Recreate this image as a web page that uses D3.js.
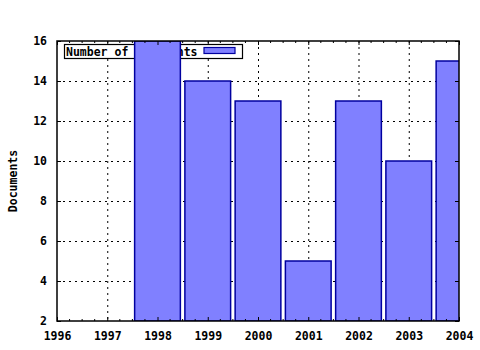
<!DOCTYPE html>
<html>
<head>
<meta charset="utf-8">
<script src="https://cdn.jsdelivr.net/npm/d3@7"></script>
<style>
  body { margin: 0; background: #fff; }
  text { font-family: "DejaVu Sans Mono", "Liberation Mono", monospace; font-weight: bold; font-size: 11.5px; fill: #000; }
</style>
</head>
<body>
<svg width="480" height="350"></svg>
<script>
const years = [1998, 1999, 2000, 2001, 2002, 2003, 2004];
const documents = [16, 14, 13, 5, 13, 10, 15];
const xTicks = [1996, 1997, 1998, 1999, 2000, 2001, 2002, 2003, 2004];
const yTicks = [2, 4, 6, 8, 10, 12, 14, 16];

const margin = {left: 57, right: 21, top: 41, bottom: 29};
const width = 480 - margin.left - margin.right;
const height = 350 - margin.top - margin.bottom;

const svg = d3.select("svg");

const x = d3.scaleLinear().domain([1996, 2004]).range([0, width]);
const y = d3.scaleLinear().domain([2, 16]).range([height, 0]);

const g = svg.append("g").attr("transform", `translate(${margin.left},${margin.top})`);

svg.append("defs").append("clipPath").attr("id", "plot")
    .append("rect").attr("width", width).attr("height", height);

// grid
g.append("g").selectAll("line").data(xTicks.slice(1, -1)).enter().append("line")
    .attr("x1", d => x(d) + 0.5).attr("x2", d => x(d) + 0.5)
    .attr("y1", 0).attr("y2", height)
    .attr("stroke", "#000").attr("stroke-dasharray", "2,4");
g.append("g").selectAll("line").data(yTicks.slice(1, -1)).enter().append("line")
    .attr("x1", 0).attr("x2", width)
    .attr("y1", d => y(d) + 0.5).attr("y2", d => y(d) + 0.5)
    .attr("stroke", "#000").attr("stroke-dasharray", "2,4");

// legend (bars are drawn over it)
const legend = g.append("g").attr("transform", "translate(7,3)");
legend.append("rect").attr("x", 0.5).attr("y", 0.5).attr("width", 178).attr("height", 14)
    .attr("fill", "#fff").attr("stroke", "#000").attr("stroke-width", 1.2);
legend.append("text").attr("x", 2).attr("y", 11.5).text("Number of documents");
legend.append("rect").attr("x", 140).attr("y", 3.5).attr("width", 31).attr("height", 6)
    .attr("fill", "#8080ff").attr("stroke", "#00009f").attr("stroke-width", 1.2);

// bars
const barW = x(1996.91) - x(1996);
g.append("g").attr("clip-path", "url(#plot)")
    .selectAll("rect").data(years).enter().append("rect")
    .attr("x", d => x(d) - barW / 2)
    .attr("y", (d, i) => y(documents[i]))
    .attr("width", barW)
    .attr("height", (d, i) => y(2) - y(documents[i]))
    .attr("fill", "#8080ff")
    .attr("stroke", "#00009f")
    .attr("stroke-width", 1.5);

// axes
const xBottom = d3.axisBottom(x).tickValues(xTicks).tickSize(-4).tickPadding(11).tickFormat(d3.format("d"));
const xTop = d3.axisTop(x).tickValues(xTicks).tickSize(-4).tickFormat("");
const yLeft = d3.axisLeft(y).tickValues(yTicks).tickSize(-4).tickPadding(10);
const yRight = d3.axisRight(y).tickValues(yTicks).tickSize(-4).tickFormat("");

const minor = d3.range(1996, 2004.01, 0.25).filter(d => d % 1 !== 0);

function styleAxis(sel) {
    sel.select(".domain").remove();
    sel.selectAll("line").attr("stroke", "#000");
    sel.selectAll("text").attr("font-family", null).attr("font-size", null);
}

g.append("g").attr("transform", `translate(0,${height})`).call(xBottom).call(styleAxis);
g.append("g").call(xTop).call(styleAxis);
g.append("g").call(yLeft).call(styleAxis);
g.append("g").attr("transform", `translate(${width},0)`).call(yRight).call(styleAxis);

g.append("g").selectAll("line").data(minor).enter().append("line")
    .attr("x1", d => x(d)).attr("x2", d => x(d)).attr("y1", height).attr("y2", height - 2).attr("stroke", "#000");
g.append("g").selectAll("line").data(minor).enter().append("line")
    .attr("x1", d => x(d)).attr("x2", d => x(d)).attr("y1", 0).attr("y2", 2).attr("stroke", "#000");

// border
g.append("rect").attr("width", width).attr("height", height)
    .attr("fill", "none").attr("stroke", "#000").attr("stroke-width", 1.5);

// y label
svg.append("text")
    .attr("transform", `translate(17,${margin.top + height / 2}) rotate(-90)`)
    .attr("text-anchor", "middle")
    .text("Documents");
</script>
</body>
</html>
